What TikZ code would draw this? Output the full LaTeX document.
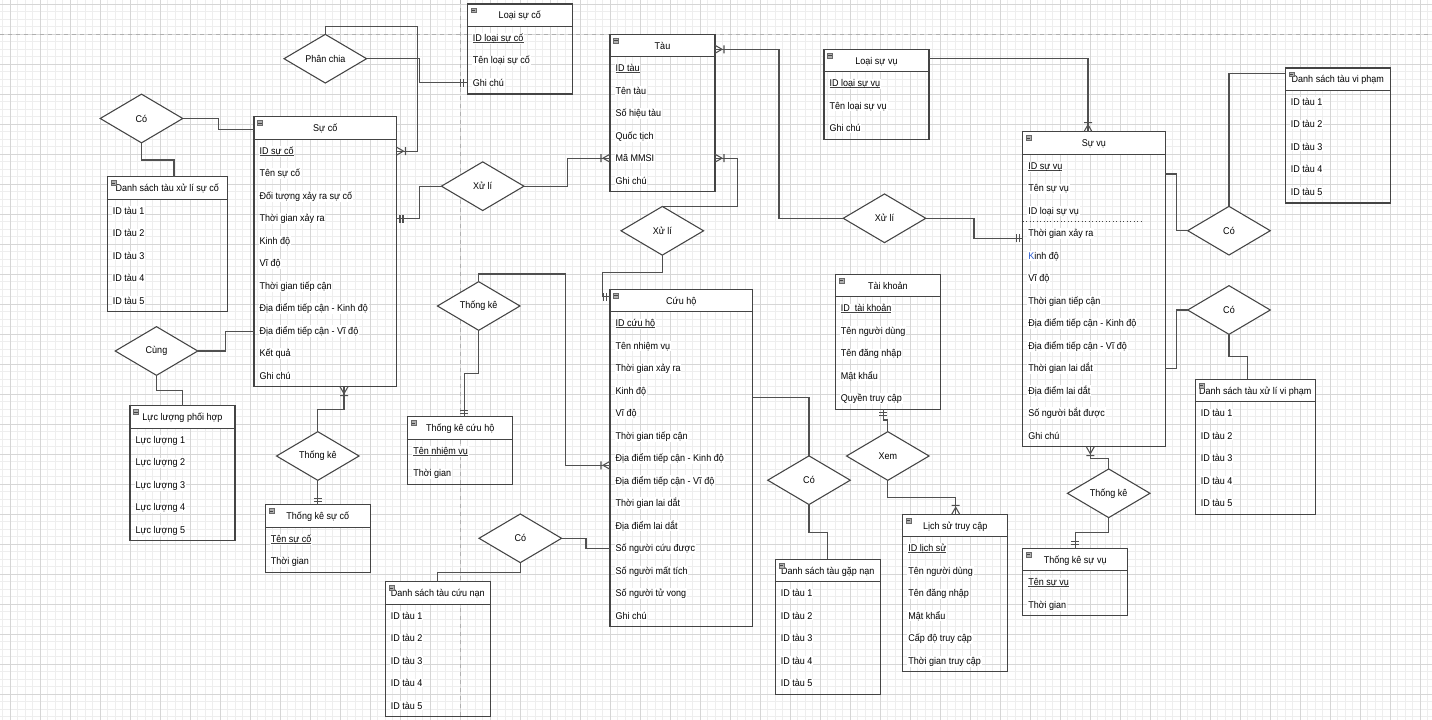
\documentclass[tikz,border=0pt]{standalone}
\usepackage{fontspec}
\setmainfont{Liberation Sans}[FakeStretch=0.92]
\usetikzlibrary{shapes.geometric}

\definecolor{gridmaj}{RGB}{214,214,214}
\definecolor{gridmin}{RGB}{238,238,238}
\definecolor{pagebrk}{RGB}{175,175,175}
\definecolor{edge}{RGB}{68,68,68}
\definecolor{conncol}{RGB}{80,80,80}
\definecolor{iconfill}{RGB}{175,175,175}
\definecolor{caretblue}{RGB}{40,90,210}

% underlined primary key
\newcommand\erkey[1]{\setbox0=\hbox{#1}\rlap{\color{edge}\rule[-1.3pt]{\wd0}{0.8pt}}\box0}

\tikzset{
  ebox/.style={draw=edge, line width=0.9pt, inner sep=0pt, outer sep=0pt, anchor=north west},
  ehead/.style={draw=edge, line width=0.9pt, fill=white},
  eicon/.style={draw=edge!80, line width=0.4pt, fill=iconfill},
  etitle/.style={anchor=base, yshift=-2.7pt, inner sep=0pt},
  eattr/.style={anchor=base west, yshift=-2.7pt, inner sep=0.6pt, fill=white},
  rel/.style={shape=diamond, aspect=1.7, draw=edge, line width=0.8pt, fill=white,
    minimum width=61.9pt, minimum height=36.5pt, inner sep=0pt, outer sep=0pt},
  conn/.style={draw=conncol, line width=0.8pt},
  toR/.style={x={(0.75pt,0pt)},y={(0pt,0.75pt)}},
  toL/.style={x={(-0.75pt,0pt)},y={(0pt,0.75pt)}},
  toD/.style={x={(0pt,-0.75pt)},y={(0.75pt,0pt)}},
  toU/.style={x={(0pt,0.75pt)},y={(0.75pt,0pt)}},
}

% entity: name, x, y, width, title, rows
\newcommand\erent[6]{%
  \path[ehead] (#2,#3) rectangle ++(#4,22.5);
  \foreach \t [count=\i] in {#6} {%
    \node[eattr] (#1-a\i) at ({#2+4.5},{#3+33.75+22.5*(\i-1)}) {\t};
    \xdef\ernrows{\i}}
  \node[ebox, minimum width=#4*0.75pt, minimum height={(22.5+22.5*\ernrows)*0.75pt}] (#1) at (#2,#3) {};
  \node[etitle] (#1-t) at ({#2+#4/2},{#3+11.25}) {#5};
  \path[eicon] ({#2+3.5},{#3+4}) rectangle ++(5,4.5);
  \draw[edge, line width=0.5pt] ({#2+4.3},{#3+6.25}) -- ++(3.4,0);
}

% relationship-end markers: point, direction towards the entity
\newcommand\mkone[2]{\begin{scope}[shift={#1},#2]
  \draw[conn] (-3.5,-4) -- (-3.5,4) (-6.5,-4) -- (-6.5,4);\end{scope}}
\newcommand\mkmany[2]{\begin{scope}[shift={#1},#2]
  \draw[conn] (-7,0) -- (0,-4) (-7,0) -- (0,4) (-9,-4) -- (-9,4);\end{scope}}

\begin{document}
\begin{tikzpicture}[x=0.75pt, y=-0.75pt, font=\fontsize{7.35pt}{8.8pt}\selectfont]
\useasboundingbox (0,0) rectangle (1432,720);
\fill[white] (0,0) rectangle (1432,720);

% background grid
\foreach \i in {0,...,190} \draw[gridmin, line width=0.6pt] ({2.5+7.5*\i},0) -- ({2.5+7.5*\i},720);
\foreach \j in {0,...,95} \draw[gridmin, line width=0.6pt] (0,{4+7.5*\j}) -- (1432,{4+7.5*\j});
\foreach \i in {0,...,47} \draw[gridmaj, line width=0.7pt] ({10+30*\i},0) -- ({10+30*\i},720);
\foreach \j in {0,...,23} \draw[gridmaj, line width=0.7pt] (0,{4+30*\j}) -- (1432,{4+30*\j});

% page breaks
\draw[pagebrk, line width=0.7pt, dash pattern=on 3pt off 3pt] (0,34) -- (1432,34);
\draw[pagebrk, line width=0.7pt, dash pattern=on 3pt off 3pt] (460,0) -- (460,720);

% ---------- entities ----------
\erent{lsc}{467.3}{4}{105}{Loại sự cố}{\erkey{ID loại sự cố},Tên loại sự cố,Ghi chú}
\erent{tau}{610}{34.3}{105}{Tàu}{\erkey{ID tàu},Tên tàu,Số hiệu tàu,Quốc tịch,Mã MMSI,Ghi chú}
\erent{lsv}{824}{49.3}{105}{Loại sự vụ}{\erkey{ID loại sự vụ},Tên loại sự vụ,Ghi chú}
\erent{suvu}{1022.7}{131.7}{142.5}{Sự vụ}{\erkey{ID sự vụ},Tên sự vụ,ID loại sự vụ,Thời gian xảy ra,{\color{caretblue}K}inh độ,Vĩ độ,Thời gian tiếp cận,Địa điểm tiếp cận - Kinh độ,Địa điểm tiếp cận - Vĩ độ,Thời gian lai dắt,Địa điểm lai dắt,Số người bắt được,Ghi chú}
\draw[edge, line width=0.6pt, dotted] (suvu.west |- 0,221) -- (1143,221);
\erent{dsvp}{1285.3}{68}{105}{Danh sách tàu vi phạm}{ID tàu 1,ID tàu 2,ID tàu 3,ID tàu 4,ID tàu 5}
\erent{suco}{254}{116.7}{142.5}{Sự cố}{\erkey{ID sự cố},Tên sự cố,Đối tượng xảy ra sự cố,Thời gian xảy ra,Kinh độ,Vĩ độ,Thời gian tiếp cận,Địa điểm tiếp cận - Kinh độ,Địa điểm tiếp cận - Vĩ độ,Kết quả,Ghi chú}
\erent{dsxl}{107.3}{176.7}{120}{Danh sách tàu xử lí sự cố}{ID tàu 1,ID tàu 2,ID tàu 3,ID tàu 4,ID tàu 5}
\erent{llph}{130}{405.7}{105}{Lực lượng phối hợp}{Lực lượng 1,Lực lượng 2,Lực lượng 3,Lực lượng 4,Lực lượng 5}
\erent{tksc}{265.3}{504.7}{105}{Thống kê sự cố}{\erkey{Tên sự cố},Thời gian}
\erent{tkch}{407.7}{416.7}{105}{Thống kê cứu hộ}{\erkey{Tên nhiệm vụ},Thời gian}
\erent{cuuho}{610}{289.3}{142.5}{Cứu hộ}{\erkey{ID cứu hộ},Tên nhiệm vụ,Thời gian xảy ra,Kinh độ,Vĩ độ,Thời gian tiếp cận,Địa điểm tiếp cận - Kinh độ,Địa điểm tiếp cận - Vĩ độ,Thời gian lai dắt,Địa điểm lai dắt,Số người cứu được,Số người mất tích,Số người tử vong,Ghi chú}
\erent{dscn}{385.3}{581.7}{105}{Danh sách tàu cứu nạn}{ID tàu 1,ID tàu 2,ID tàu 3,ID tàu 4,ID tàu 5}
\erent{tk}{835.3}{274.3}{105}{Tài khoản}{\erkey{ID\ \ tài khoản},Tên người dùng,Tên đăng nhập,Mật khẩu,Quyền truy cập}
\erent{lstc}{902.7}{514.3}{105}{Lịch sử truy cập}{\erkey{ID lịch sử},Tên người dùng,Tên đăng nhập,Mật khẩu,Cấp độ truy cập,Thời gian truy cập}
\erent{dsgn}{775.3}{559.3}{105}{Danh sách tàu gặp nạn}{ID tàu 1,ID tàu 2,ID tàu 3,ID tàu 4,ID tàu 5}
\erent{tksv}{1022.7}{548.3}{105}{Thống kê sự vụ}{\erkey{Tên sự vụ},Thời gian}
\erent{dsxlvp}{1195.3}{379.3}{120}{Danh sách tàu xử lí vi phạm}{ID tàu 1,ID tàu 2,ID tàu 3,ID tàu 4,ID tàu 5}

% ---------- relationships ----------
\node[rel] (pc)   at (325.3,58.7)  {Phân chia};
\node[rel] (co1)  at (141.5,118.5) {Có};
\node[rel] (xl1)  at (482.7,186.2) {Xử lí};
\node[rel] (xl2)  at (662.3,230.8) {Xử lí};
\node[rel] (xl3)  at (884.5,218.3) {Xử lí};
\node[rel] (co5)  at (1229,230.7)  {Có};
\node[rel] (co6)  at (1229,310)    {Có};
\node[rel] (tk3)  at (1108.7,493.3) {Thống kê};
\node[rel] (xem)  at (887.8,456)   {Xem};
\node[rel] (co3)  at (809,480.2)   {Có};
\node[rel] (co4)  at (520.3,538.3) {Có};
\node[rel] (tk2)  at (478.7,306)   {Thống kê};
\node[rel] (tk1)  at (317.8,456)   {Thống kê};
\node[rel] (cung) at (156.5,351)   {Cùng};

% ---------- connectors ----------
\draw[conn] (pc.north) |- (417.3,26.7) |- (suco.east |- suco-a1);
\draw[conn] (pc.east) -| (419.3,0 |- lsc-a3) -- (lsc.west |- lsc-a3);
\draw[conn] (co1.east) -| (218.3,129.3) -- (suco.west |- 0,129.3);
\draw[conn] (co1.south) |- (174,160) -- (174,0 |- dsxl.north);
\draw[conn] (xl1.west) -| (419.3,0 |- suco-a4) -- (suco.east |- suco-a4);
\draw[conn] (xl1.east) -| (567.3,0 |- tau-a5) -- (tau.west |- tau-a5);
\draw[conn] (tau.east |- 0,49.3) -| (779,0 |- xl3.west) -- (xl3.west);
\draw[conn] (xl3.east) -| (974,238.3) -- (suvu.west |- 0,238.3);
\draw[conn] (xl2.north) -- (737.3,0 |- xl2.north) |- (tau.east |- tau-a5);
\draw[conn] (xl2.south) |- (602.7,272.3) |- (cuuho.west |- 0,296.7);
\draw[conn] (tk2.north) |- (565.3,274) |- (cuuho.west |- 0,465.3);
\draw[conn] (tk2.south) |- (464.3,373.3) -- (464.3,0 |- tkch.north);
\draw[conn] (tk1.north) |- (344,409.3) -- (344,0 |- suco.south);
\draw[conn] (tk1.south) -- (tk1.south |- tksc.north);
\draw[conn] (cung.east) -| (225.7,0 |- suco-a9) -- (suco.west |- suco-a9);
\draw[conn] (cung.south) |- (182.7,390.3) -- (182.7,0 |- llph.north);
\draw[conn] (co4.east) -| (586,0 |- cuuho-a11) -- (cuuho.west |- cuuho-a11);
\draw[conn] (co4.south) |- (437.3,572.3) -- (437.3,0 |- dscn.north);
\draw[conn] (cuuho.east |- 0,397.3) -| (co3.north);
\draw[conn] (co3.south) |- (827.7,532.3) -- (827.7,0 |- dsgn.north);
\draw[conn] (883.3,0 |- tk.south) |- (887.8,420) -- (xem.north);
\draw[conn] (xem.south) |- (955.7,497.3) -- (955.7,0 |- lstc.north);
\draw[conn] (1090.3,0 |- suvu.south) |- (1108.7,458.3) -- (tk3.north);
\draw[conn] (tk3.south) |- (1075.3,532.7) -- (1075.3,0 |- tksv.north);
\draw[conn] (lsv.east |- 0,58.3) -| (1088,0 |- suvu.north);
\draw[conn] (suvu.east |- 0,174) -| (1176.3,0 |- co5.west) -- (co5.west);
\draw[conn] (co5.north) |- (dsvp.west |- 0,73.3);
\draw[conn] (suvu.east |- suvu-a10) -| (1176.3,0 |- co6.west) -- (co6.west);
\draw[conn] (co6.south) |- (1247.7,356.7) -- (1247.7,0 |- dsxlvp.north);

% ---------- cardinality marks ----------
\mkmany{(suco.east |- suco-a1)}{toL}
\mkone{(lsc.west |- lsc-a3)}{toR}
\mkone{(suco.east |- suco-a4)}{toL}
\mkmany{(tau.west |- tau-a5)}{toR}
\mkmany{(tau.east |- 0,49.3)}{toL}
\mkone{(suvu.west |- 0,238.3)}{toR}
\mkmany{(tau.east |- tau-a5)}{toL}
\mkone{(cuuho.west |- 0,296.7)}{toR}
\mkmany{(cuuho.west |- 0,465.3)}{toR}
\mkone{(464.3,0 |- tkch.north)}{toD}
\mkmany{(344,0 |- suco.south)}{toU}
\mkone{(tk1.south |- tksc.north)}{toD}
\mkone{(883.3,0 |- tk.south)}{toU}
\mkmany{(955.7,0 |- lstc.north)}{toD}
\mkmany{(1090.3,0 |- suvu.south)}{toU}
\mkone{(1075.3,0 |- tksv.north)}{toD}
\mkmany{(1088,0 |- suvu.north)}{toD}
\end{tikzpicture}
\end{document}
